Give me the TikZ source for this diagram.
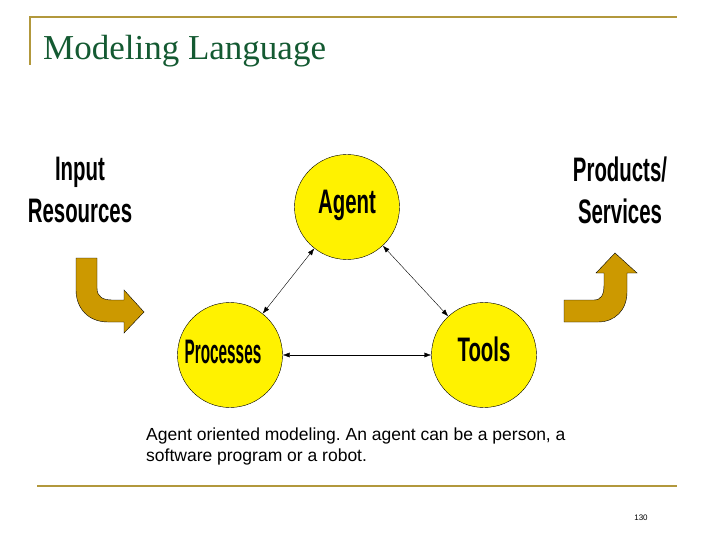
\documentclass[tikz,border=0pt]{standalone}
\usepackage{fontspec}
\setmainfont{Liberation Sans}
\newfontfamily\serif{Liberation Serif}
\usetikzlibrary{arrows.meta}
\begin{document}
\frenchspacing
\begin{tikzpicture}[x=1pt,y=-1pt,
  circ/.style={circle,draw=black,fill=yellow,minimum size=105pt,inner sep=0pt},
  lbl/.style={font=\bfseries\fontsize{34}{40}\selectfont,align=center},
  conn/.style={{Latex[length=7pt,width=5pt]}-{Latex[length=7pt,width=5pt]},thin}]
\useasboundingbox (0,0) rectangle (720,540);
\definecolor{gold}{RGB}{178,152,60}
\definecolor{arrowfill}{RGB}{204,153,0}
\definecolor{titlegreen}{RGB}{20,90,50}
\draw[gold,line width=1.5pt] (30,65) -- (30,17) -- (677,17);
\draw[gold,line width=1.5pt] (37,486) -- (677,486);
\node[anchor=base west,text=titlegreen,font=\serif\fontsize{35}{40}\selectfont,inner sep=0pt] (title) at (43,60) {Modeling Language};
\node[circ] (agent) at (347,207) {};
\node[circ] (proc) at (230,355) {};
\node[circ] (tools) at (484,355) {};
\node[lbl] at (347,205) {\scalebox{0.6}[1]{Agent}};
\node[lbl] at (223,352) {\scalebox{0.45}[1]{Processes}};
\node[lbl] at (484,349) {\scalebox{0.6}[1]{Tools}};
\node[lbl] (input) at (80,190) {\scalebox{0.6}[1]{Input}\\[2pt]\scalebox{0.6}[1]{Resources}};
\node[lbl] (prod) at (620,190) {\scalebox{0.6}[1]{Products/}\\[2pt]\scalebox{0.6}[1]{Services}};
\draw[conn] (agent) -- (proc);
\draw[conn] (agent) -- (tools);
\draw[conn] (proc) -- (tools);
\draw[draw=black,fill=arrowfill] (76,258) -- (97,258) -- (97,288) .. controls (97,297) and (103,300) .. (112,300) -- (124,300) -- (124,290) -- (144,312) -- (124,333) -- (124,322) -- (108,322) .. controls (88,322) and (76,308) .. (76,290) -- cycle;
\draw[draw=black,fill=arrowfill] (564,300) -- (594,300) .. controls (601,300) and (604,295) .. (604,285) -- (604,273) -- (596,273) -- (615,253) -- (637,273) -- (627,273) -- (627,292) .. controls (627,310) and (615,322) .. (598,322) -- (564,322) -- cycle;
\node[anchor=north west,align=left,font=\fontsize{17.5}{21}\selectfont,inner sep=0pt] (cap) at (146,428) {Agent oriented modeling. An agent can be a person, a\\software program or a robot.};
\node[font=\fontsize{8}{9}\selectfont] (num) at (641,518) {130};
\end{tikzpicture}
\end{document}
